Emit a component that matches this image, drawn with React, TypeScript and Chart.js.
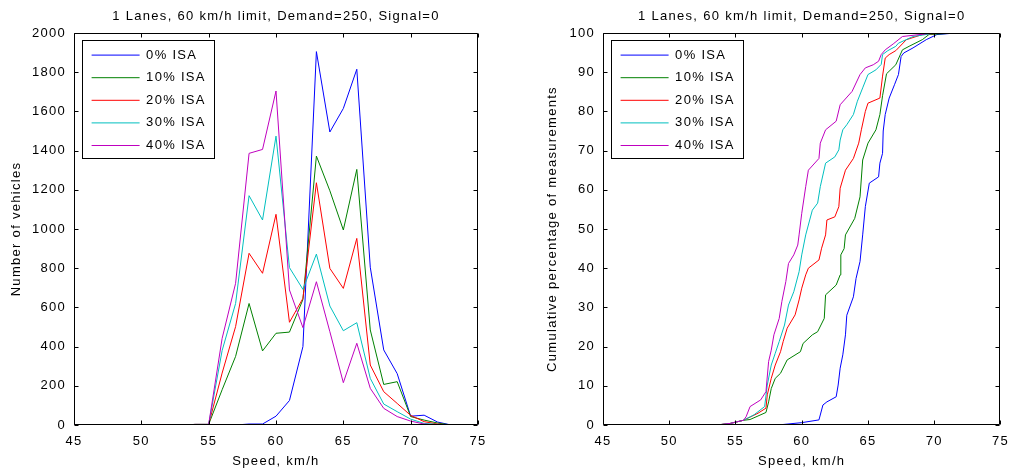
import React, { useEffect, useRef } from 'react';
import { Chart, registerables } from 'chart.js';

Chart.register(...registerables);

// ---------- data ----------
const chartTitle = '1 Lanes, 60 km/h limit, Demand=250, Signal=0';
const xAxisTitle = 'Speed, km/h';
const leftYTitle = 'Number of vehicles';
const rightYTitle = 'Cumulative percentage of measurements';
const seriesLabels = ['0% ISA', '10% ISA', '20% ISA', '30% ISA', '40% ISA'];
const seriesColors = ['#0000FF', '#008000', '#FF0000', '#00BFBF', '#BF00BF'];

const speedBins = [45, 46, 47, 48, 49, 50, 51, 52, 53, 54, 55, 56, 57, 58, 59, 60, 61, 62, 63, 64, 65, 66, 67, 68, 69, 70, 71, 72, 73, 74, 75];
const count0 = [0, 0, 0, 0, 0, 0, 0, 0, 0, 0, 0, 0, 0, 5, 5, 45, 125, 400, 1905, 1495, 1615, 1815, 805, 383, 262, 45, 50, 15, 0, 0, 0];
const count10 = [0, 0, 0, 0, 0, 0, 0, 0, 0, 3, 3, 180, 350, 620, 378, 468, 474, 640, 1372, 1195, 995, 1304, 485, 207, 221, 43, 25, 10, 0, 0, 0];
const count20 = [0, 0, 0, 0, 0, 0, 0, 0, 0, 3, 3, 265, 502, 876, 774, 1075, 524, 646, 1236, 799, 697, 952, 306, 170, 110, 49, 17, 5, 0, 0, 0];
const count30 = [0, 0, 0, 0, 0, 0, 0, 0, 0, 3, 3, 380, 620, 1170, 1046, 1474, 803, 692, 872, 607, 481, 522, 238, 107, 68, 30, 8, 3, 0, 0, 0];
const count40 = [0, 0, 0, 0, 0, 0, 0, 0, 0, 3, 3, 442, 723, 1386, 1406, 1704, 689, 497, 731, 476, 216, 417, 187, 85, 43, 20, 5, 0, 0, 0, 0];

const cumSpeed0 = [58.2, 60.0, 61.3, 61.6, 61.9, 62.6, 62.75, 62.9, 63.1, 63.3, 63.4, 63.9, 64.1, 64.4, 64.6, 64.8, 65.1, 65.8, 65.9, 66.1, 66.15, 66.3, 66.6, 67.0, 67.3, 67.5, 67.7, 68.4, 69.4, 70.2, 71.6, 72.0];
const cumPct0 = [0, 0.6, 1.3, 5.1, 5.9, 7.2, 10.2, 14.5, 17.9, 23.0, 28.0, 32.7, 37.4, 41.7, 48.5, 55.7, 61.7, 63.3, 66.8, 69.3, 75.0, 79.2, 83.4, 86.8, 89.4, 94.0, 94.9, 96.2, 98.3, 99.6, 100, 100];
const cumSpeed10 = [53.6, 54.6, 55.6, 56.1, 57.3, 57.5, 57.7, 58.0, 58.4, 58.9, 59.9, 60.1, 60.8, 61.2, 61.7, 61.8, 62.6, 62.9, 62.95, 63.2, 63.3, 64.0, 64.4, 64.6, 65.0, 65.6, 65.9, 66.1, 66.4, 67.1, 67.6, 68.1, 69.1, 69.6, 71.6, 72.0];
const cumPct10 = [0, 0.4, 1.2, 1.4, 3.2, 5.9, 9.3, 11.9, 13.2, 16.6, 18.7, 20.8, 23.0, 23.8, 27.2, 33.2, 35.7, 38.3, 43.4, 45.0, 48.5, 52.7, 58.2, 67.6, 71.9, 75.3, 79.2, 84.0, 89.6, 91.9, 95.7, 96.6, 98.3, 99.6, 100, 100];
const cumSpeed20 = [53.6, 54.6, 55.6, 56.7, 57.3, 57.4, 57.7, 58.0, 58.4, 58.6, 58.9, 59.5, 59.8, 60.0, 60.3, 60.5, 61.3, 61.5, 61.8, 61.9, 62.5, 62.8, 62.9, 63.3, 63.9, 64.3, 64.5, 64.8, 65.0, 65.9, 66.1, 66.3, 66.6, 67.1, 67.9, 69.1, 70.6, 72.0];
const cumPct20 = [0, 0.4, 1.2, 3.0, 4.3, 7.7, 11.9, 15.3, 18.7, 21.3, 24.7, 28.1, 31.9, 34.9, 38.3, 40.0, 42.1, 45.1, 48.5, 52.3, 53.1, 55.7, 60.4, 65.0, 68.0, 71.9, 75.3, 80.0, 82.1, 83.4, 89.0, 93.6, 94.5, 95.5, 98.3, 99.6, 100, 100];
const cumSpeed30 = [53.6, 54.6, 55.6, 56.4, 57.2, 57.4, 57.7, 58.0, 58.3, 58.7, 59.0, 59.4, 59.8, 60.0, 60.3, 60.8, 61.2, 61.4, 61.8, 62.5, 62.8, 62.9, 63.1, 63.4, 63.9, 64.2, 64.6, 65.0, 65.6, 66.0, 66.1, 66.5, 67.1, 67.3, 68.4, 70.1, 72.0];
const cumPct30 = [0, 0.4, 1.2, 2.6, 4.7, 10.2, 15.3, 18.3, 21.3, 25.5, 30.6, 34.0, 39.1, 43.4, 48.5, 54.8, 56.6, 60.8, 66.8, 68.4, 70.2, 72.7, 75.3, 76.6, 79.2, 82.6, 86.0, 89.4, 90.6, 92.0, 94.5, 95.5, 96.6, 97.4, 99.1, 100, 100];
const cumSpeed40 = [53.6, 54.6, 55.6, 55.8, 56.1, 56.9, 57.3, 57.5, 57.7, 57.9, 58.3, 58.5, 58.8, 59.0, 59.4, 59.7, 59.8, 60.0, 60.3, 60.5, 61.3, 61.4, 61.8, 62.6, 62.9, 63.8, 64.4, 64.8, 65.4, 65.8, 66.0, 66.3, 66.9, 67.6, 69.9, 72.0];
const cumPct40 = [0, 0.4, 1.2, 2.1, 4.7, 6.4, 8.5, 16.2, 19.1, 23.0, 27.2, 31.5, 36.6, 41.2, 43.4, 45.9, 48.5, 54.0, 60.8, 65.0, 68.0, 71.9, 75.3, 77.5, 81.7, 85.1, 89.4, 91.1, 91.9, 92.8, 94.5, 95.7, 97.2, 99.1, 100, 100];

const histCounts = [count0, count10, count20, count30, count40];
const cumSpeeds = [cumSpeed0, cumSpeed10, cumSpeed20, cumSpeed30, cumSpeed40];
const cumPcts = [cumPct0, cumPct10, cumPct20, cumPct30, cumPct40];

// ---------- styling ----------
const FONT = { family: '"Liberation Sans", Arial, Helvetica, sans-serif', size: 13 };
const TEXT = '#000000';
const SPACING = '1.3px';

const matlabPlugin = {
  id: 'matlabFrame',
  beforeLayout(chart: any) {
    (chart.ctx as any).letterSpacing = SPACING;
  },
  afterLayout(chart: any) {
    const a = chart.chartArea;
    const lg = chart.legend;
    if (lg) {
      lg.left = a.left + 8;
      lg.top = a.top + 6;
      lg.right = a.right;
      lg.bottom = a.bottom;
      lg.width = lg.right - lg.left;
      lg.height = lg.bottom - lg.top;
    }
    const tb = chart.titleBlock;
    if (tb) {
      tb.left = a.left;
      tb.right = a.right;
      tb.width = a.right - a.left;
    }
  },
  beforeDraw(chart: any) {
    (chart.ctx as any).letterSpacing = SPACING;
  },
  afterDatasetsDraw(chart: any) {
    const { ctx, chartArea: a, scales } = chart;
    ctx.save();
    ctx.strokeStyle = '#000';
    ctx.lineWidth = 1;
    const L = Math.round(a.left) + 0.5;
    const R = Math.round(a.right) - 0.5;
    const T = Math.round(a.top) + 0.5;
    const B = Math.round(a.bottom) - 0.5;
    ctx.beginPath();
    ctx.rect(L, T, R - L, B - T);
    const tl = 4;
    scales.x.ticks.forEach((t: any) => {
      const p = Math.round(scales.x.getPixelForValue(t.value)) + 0.5;
      ctx.moveTo(p, B); ctx.lineTo(p, B - tl);
      ctx.moveTo(p, T); ctx.lineTo(p, T + tl);
    });
    scales.y.ticks.forEach((t: any) => {
      const p = Math.round(scales.y.getPixelForValue(t.value)) + 0.5;
      ctx.moveTo(L, p); ctx.lineTo(L + tl, p);
      ctx.moveTo(R, p); ctx.lineTo(R - tl, p);
    });
    ctx.stroke();
    ctx.restore();
  },
  afterDraw(chart: any) {
    const { ctx, chartArea: a } = chart;
    ctx.save();
    ctx.strokeStyle = '#000';
    ctx.lineWidth = 1;
    ctx.strokeRect(Math.round(a.left + 8) + 0.5, Math.round(a.top + 7) + 0.5, 132, 118);
    ctx.restore();
  },
};

const plainTick = (v: any) => String(v);

function makeConfig(datasets: any[], yMax: number, yStep: number, yTitle: string, yWidth: number, yTitlePad: number, rightPad: number): any {
  return {
    type: 'line',
    data: { datasets },
    plugins: [matlabPlugin],
    options: {
      animation: false,
      responsive: false,
      devicePixelRatio: 1,
      events: [],
      layout: { padding: { left: 0, right: rightPad, top: 0, bottom: 0 } },
      elements: { point: { radius: 0 }, line: { borderWidth: 1, tension: 0 } },
      scales: {
        x: {
          type: 'linear',
          min: 45,
          max: 75,
          ticks: { stepSize: 5, color: TEXT, font: FONT, padding: 9, maxRotation: 0, callback: plainTick },
          grid: { display: false, drawTicks: false },
          border: { display: false },
          title: { display: true, text: xAxisTitle, color: TEXT, font: FONT, padding: { top: 0, bottom: 1 } },
          afterFit: (s: any) => { s.height = 45; },
        },
        y: {
          type: 'linear',
          min: 0,
          max: yMax,
          ticks: { stepSize: yStep, color: TEXT, font: FONT, padding: 8, callback: plainTick },
          grid: { display: false, drawTicks: false },
          border: { display: false },
          title: { display: true, text: yTitle, color: TEXT, font: FONT, padding: { top: yTitlePad, bottom: 0 } },
          afterFit: (s: any) => { s.width = yWidth; },
        },
      },
      plugins: {
        title: { display: true, text: chartTitle, color: TEXT, font: { ...FONT, weight: 'normal' }, padding: { top: 9, bottom: 8.4 } },
        legend: {
          position: 'chartArea',
          align: 'start',
          labels: {
            usePointStyle: true,
            pointStyle: 'line',
            pointStyleWidth: 48,
            padding: 9.6,
            color: TEXT,
            font: FONT,
            sort: (a: any, b: any) => a.datasetIndex - b.datasetIndex,
          },
        },
        tooltip: { enabled: false },
      },
    },
  };
}

function histDatasets() {
  return seriesLabels.map((label, i) => ({
    label,
    data: speedBins.map((s, j) => ({ x: s, y: histCounts[i][j] })),
    borderColor: seriesColors[i],
    backgroundColor: seriesColors[i],
    borderWidth: 1,
    pointRadius: 0,
    fill: false,
    order: seriesLabels.length - i,
  }));
}

function cumDatasets() {
  return seriesLabels.map((label, i) => ({
    label,
    data: cumSpeeds[i].map((s, j) => ({ x: s, y: cumPcts[i][j] })),
    borderColor: seriesColors[i],
    backgroundColor: seriesColors[i],
    borderWidth: 1,
    pointRadius: 0,
    fill: false,
    order: seriesLabels.length - i,
  }));
}

export default function App() {
  const leftRef = useRef<HTMLCanvasElement>(null);
  const rightRef = useRef<HTMLCanvasElement>(null);

  useEffect(() => {
    const c1 = new Chart(leftRef.current as HTMLCanvasElement, makeConfig(histDatasets(), 2000, 200, leftYTitle, 74, 9, 31));
    const c2 = new Chart(rightRef.current as HTMLCanvasElement, makeConfig(cumDatasets(), 100, 10, rightYTitle, 94, 36, 13));
    return () => {
      c1.destroy();
      c2.destroy();
    };
  }, []);

  return (
    <div style={{ position: 'absolute', left: 0, top: 0, width: 1018, height: 470, background: '#fff', overflow: 'hidden' }}>
      <canvas ref={leftRef} width={509} height={470} style={{ position: 'absolute', left: 0, top: 0, width: 509, height: 470 }} />
      <canvas ref={rightRef} width={509} height={470} style={{ position: 'absolute', left: 509, top: 0, width: 509, height: 470 }} />
    </div>
  );
}
